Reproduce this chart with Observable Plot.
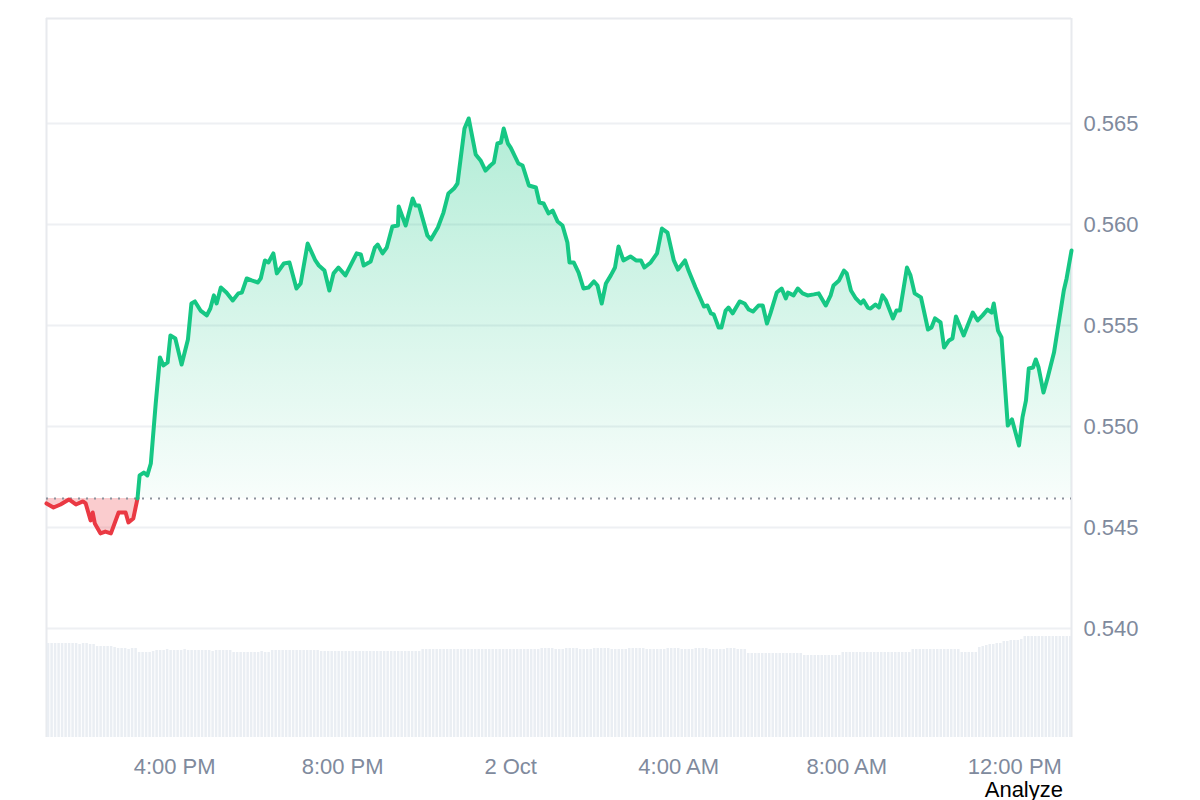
<!DOCTYPE html>
<html><head><meta charset="utf-8">
<script src="https://cdn.jsdelivr.net/npm/d3@7"></script>
<script src="https://cdn.jsdelivr.net/npm/@observablehq/plot@0.6"></script>
<style>
html,body{margin:0;padding:0;background:#fff;overflow:hidden;}
#wrap{position:relative;width:1200px;height:800px;font-family:"Liberation Sans",Arial,sans-serif;}
#wrap svg{position:absolute;left:0;top:0;}
#analyze{position:absolute;right:137px;top:782px;font-size:22px;line-height:16px;color:#000;}
</style></head><body><div id="wrap"><div id="analyze">Analyze</div></div>
<script>
// ---- data ----
const startTime = "2024-10-01T13:00";
const minutes = [-3,7,17,29,39,49,53,60,63,66,74,81,89,100,110,114,121,127,
130,136,141,146,153,159,164,170,174,181,190,199,204,209,217,226,231,236,240,246,254,263,271,276,283,290,299,303,309,314,321,326,336,344,354,360,370,381,386,394,401,407,414,424,440,446,450,460,466,470,477,483,491,499,500,510,520,524,529,541,546,556,564,571,579,584,594,600,610,617,624,631,636,641,646,650,656,660,671,677,686,696,701,707,714,720,727,734,741,744,750,757,764,771,779,784,790,796,803,809,814,821,831,839,846,851,860,869,876,884,893,899,909,914,924,936,941,946,950,957,961,967,971,977,987,994,1000,1006,1014,1020,1026,1031,1040,1047,1053,1056,1064,1070,1077,1084,1093,1100,1110,1117,1121,1129,1136,1140,1146,1153,1160,1164,1170,1174,1181,1186,1191,1196,1206,1211,1216,1226,1231,1237,1246,1256,1261,1266,1274,1279,1286,1291,1296,1307,1320,1327,1334,1341,1347,1350,1356,1361,1370,1376,1386,1391,1396,1400,1406,1410,1414,1421,1427,1436,1441,1446,1450,1454,1461];
const prices = [0.54619,0.54599,0.54614,0.54639,0.54614,0.54629,0.54619,0.54535,0.54574,0.5452,0.54471,0.5448,0.54471,0.54574,0.54574,0.54525,0.54545,0.54644,
0.54758,0.54772,0.54758,0.54817,0.55114,0.55342,0.55302,0.55317,0.55451,0.55436,0.55307,0.55431,0.55609,0.55619,0.55574,0.5555,0.55584,0.55649,0.55609,0.55688,0.55663,0.55624,0.55659,0.55663,0.55733,0.55723,0.55713,0.55733,0.55822,0.55812,0.55857,0.55758,0.55807,0.55812,0.55683,0.55708,0.55906,0.55822,0.55797,0.55772,0.55673,0.55758,0.55787,0.55748,0.55857,0.55852,0.55797,0.55817,0.55886,0.55901,0.55857,0.55886,0.5599,0.55995,0.56089,0.55995,0.56129,0.56094,0.56094,0.55946,0.55926,0.55985,0.56059,0.56154,0.56178,0.56203,0.56475,0.56525,0.56347,0.56317,0.56267,0.56292,0.56307,0.56401,0.56406,0.56475,0.56401,0.56381,0.56302,0.56292,0.56193,0.56183,0.56109,0.56104,0.56055,0.56069,0.56015,0.55995,0.55911,0.55812,0.55812,0.55762,0.55683,0.55688,0.55718,0.55698,0.55609,0.55708,0.55748,0.55787,0.55891,0.55822,0.55842,0.55822,0.55822,0.55787,0.55812,0.55857,0.5598,0.5596,0.55822,0.55777,0.55822,0.55772,0.55688,0.55594,0.55599,0.5556,0.55555,0.5549,0.5549,0.55574,0.55589,0.5556,0.55619,0.55609,0.55579,0.55569,0.55599,0.55599,0.5551,0.5556,0.55663,0.55683,0.55634,0.55663,0.55649,0.55683,0.55659,0.55649,0.55654,0.55659,0.55599,0.55649,0.55698,0.55723,0.55772,0.55758,0.55673,0.55634,0.55609,0.55624,0.55589,0.55584,0.55604,0.55589,0.55649,0.55624,0.55535,0.55574,0.55574,0.55787,0.55748,0.55659,0.55639,0.5548,0.5549,0.55535,0.55515,0.55391,0.55426,0.55436,0.55545,0.55451,0.55564,0.55525,0.5555,0.55579,0.55564,0.55609,0.55475,0.55441,0.55005,0.55035,0.54906,0.55045,0.55129,0.55287,0.55292,0.55332,0.55292,0.55168,0.55243,0.55366,0.55475,0.55584,0.55673,0.55733,0.55871];
const baseline = 0.54644;
// volume bars every 5 minutes from 13:00 (arbitrary units)
const volStepMinutes = 5;
const volumes = [
94,94,94,94,94,94,94,94,94,93,94,94,93,93,
91,91,91,91,91,90,
89,89,89,88,89,89,
85,85,85,85,86,
87,87,87,88,87,87,87,87,88,87,87,87,87,87,87,87,86,87,87,87,87,87,
85,85,85,85,85,85,85,85,86,85,85,
87,87,87,87,87,87,87,87,87,87,87,87,87,87,
86,86,86,86,86,86,86,86,86,86,86,86,86,86,86,86,86,86,86,86,86,86,86,86,86,86,86,86,86,
88,88,88,88,88,88,88,88,88,88,88,88,88,88,88,88,88,88,88,88,88,88,88,88,88,88,88,88,88,88,88,88,
88,88,89,89,89,89,88,88,88,89,89,89,89,88,88,88,88,89,89,89,89,89,88,88,88,88,88,89,89,89,89,89,88,88,88,88,88,88,89,89,89,89,88,88,88,88,89,89,89,89,88,88,88,88,88,89,89,89,88,88,88,
84,84,84,84,84,84,84,84,84,84,84,84,84,84,84,84,
82,82,82,82,82,82,82,82,82,82,82,
85,85,85,85,85,85,85,85,85,85,85,85,85,85,85,85,85,85,85,85,
88,88,88,88,88,88,88,88,88,88,88,88,88,88,
85,85,85,85,85,
90,91,92,93,93,94,94,
96,96,97,97,97,98,
101,101,101,101,101,101,101,101,101,101,101,101,101,101];
const yTicks = [0.540,0.545,0.550,0.555,0.560,0.565];
const xTickTimes = ["2024-10-01T16:00","2024-10-01T20:00","2024-10-02T00:00","2024-10-02T04:00","2024-10-02T08:00","2024-10-02T12:00"];
const xTickLabels = ["4:00 PM","8:00 PM","2 Oct","4:00 AM","8:00 AM","12:00 PM"];

// ---- build ----
const t0 = new Date(startTime).getTime();
const pts = minutes.map((m,i)=>({t:new Date(t0+m*60000), p:prices[i]}));
let k = 0; prices.forEach((p,i)=>{ if (p <= baseline) k = i; });
const down = pts.slice(0,k+1), up = pts.slice(k);
const xDomain = [pts[0].t, pts[pts.length-1].t];
const yDomain = [0.534604, 0.570198];
const ticksX = xTickTimes.map(s=>new Date(s));
const labelOf = new Map(ticksX.map((d,i)=>[+d, xTickLabels[i]]));
const volData = volumes.map((v,i)=>({a:new Date(t0+(i*volStepMinutes-2.5)*60000), b:new Date(t0+(i*volStepMinutes+2.5)*60000), v}));

const defs = () => {
  const d = d3.create("svg:defs");
  const g = d.append("linearGradient").attr("id","upGrad").attr("x1",0).attr("x2",0).attr("y1",0).attr("y2",1);
  g.append("stop").attr("offset","0%").attr("stop-color","#16c784").attr("stop-opacity",0.33);
  g.append("stop").attr("offset","100%").attr("stop-color","#16c784").attr("stop-opacity",0.03);
  return d.node();
};

const common = {width:1200, height:800, marginLeft:46, marginRight:129, marginTop:18, marginBottom:63};
const main = Plot.plot({
  ...common,
  style:{fontFamily:"'Liberation Sans', Arial, sans-serif", fontSize:"22px", color:"#808a9d", background:"#fff"},
  x:{type:"time", domain:xDomain, label:null},
  y:{domain:yDomain, label:null},
  marks:[
    defs,
    Plot.gridY(yTicks, {stroke:"#eef0f3", strokeOpacity:1, strokeWidth:2}),
    Plot.ruleX(xDomain, {stroke:"#e8eaee", strokeWidth:2}),
    Plot.ruleY([yDomain[1]], {stroke:"#e8eaee", strokeWidth:2}),
    Plot.areaY(up, {x:"t", y1:baseline, y2:"p", fill:"url(#upGrad)"}),
    Plot.areaY(down, {x:"t", y1:baseline, y2:"p", fill:"#ea3943", fillOpacity:0.26}),
    Plot.ruleY([baseline], {stroke:"#8c929c", strokeWidth:2, strokeDasharray:"2,6"}),
    Plot.lineY(down, {x:"t", y:"p", stroke:"#ea3943", strokeWidth:4}),
    Plot.lineY(up, {x:"t", y:"p", stroke:"#16c784", strokeWidth:4}),
    Plot.axisY(yTicks, {anchor:"right", tickSize:0, tickPadding:12, tickFormat:d3.format(".3f"), fontSize:22, label:null}),
    Plot.axisX(ticksX, {anchor:"bottom", tickSize:0, tickPadding:21, tickFormat:d=>labelOf.get(+d), fontSize:22, label:null})
  ]
});
const vol = Plot.plot({
  ...common,
  style:{background:"transparent"},
  x:{type:"time", domain:xDomain, axis:null},
  y:{domain:[0,719], axis:null},
  marks:[Plot.rectY(volData, {x1:"a", x2:"b", y:"v", fill:"#eaeef3", insetLeft:0.5, insetRight:0.5, clip:true})]
});
const wrap = document.getElementById("wrap");
wrap.insertBefore(vol, wrap.firstChild);
wrap.insertBefore(main, wrap.firstChild);
</script></body></html>
